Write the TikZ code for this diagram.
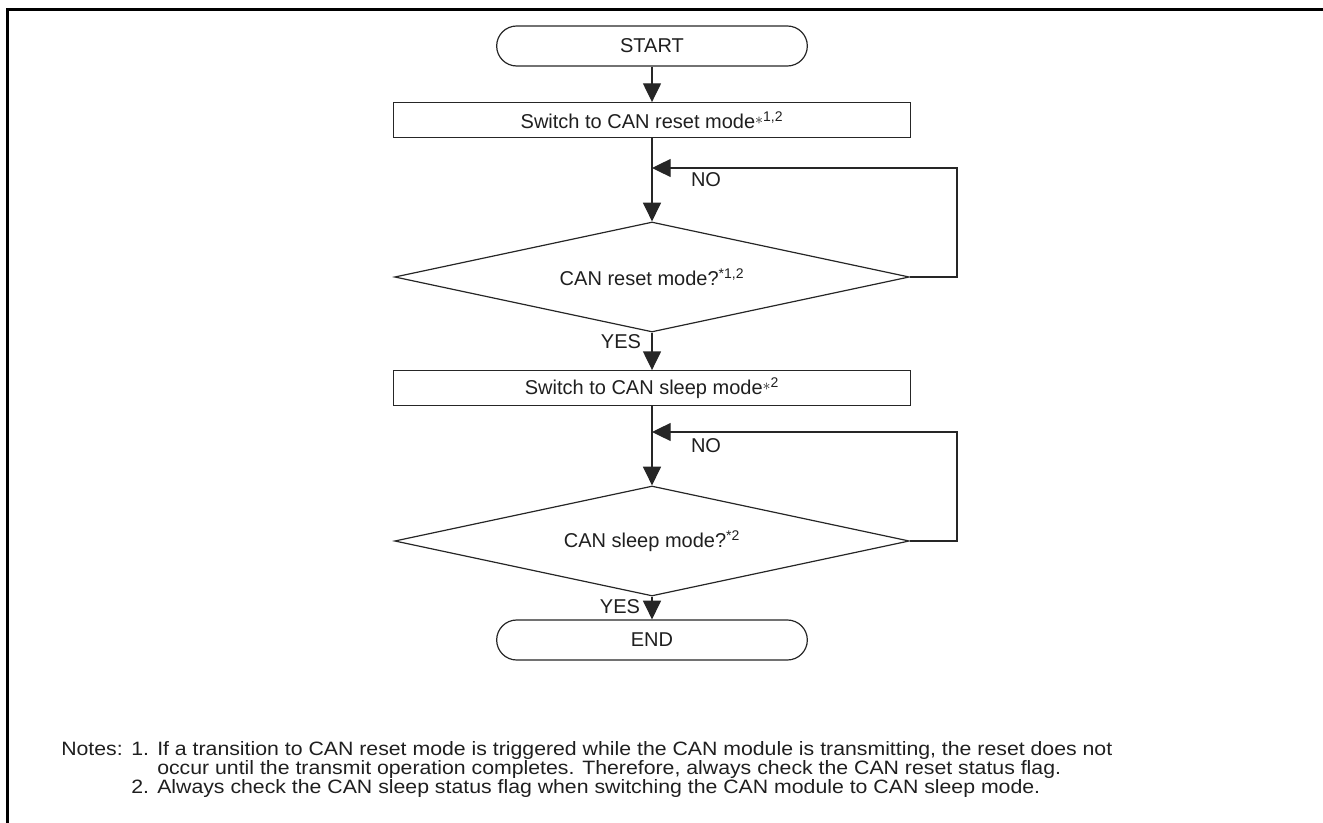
\documentclass[tikz,border=0pt]{standalone}
\usepackage{fontspec}
\setmainfont{Liberation Sans}
\newfontfamily\notefont[FakeStretch=1.1]{Liberation Sans}
\usetikzlibrary{shapes.geometric,arrows.meta}
\newcommand{\bigast}{\raisebox{0.35ex}{\fontsize{13}{13}\selectfont$\ast$}}
\begin{document}
\begin{tikzpicture}[x=0.75pt,y=-0.75pt,
  txt/.style={font=\fontsize{15}{18}\selectfont, text=black!88, inner sep=0pt},
  term/.style={txt, draw=black!85, line width=0.9pt, minimum width=233pt, minimum height=30pt, rounded corners=15pt},
  proc/.style={txt, draw=black!85, line width=0.9pt, minimum width=388pt, minimum height=26pt},
  dec/.style={txt, diamond, aspect=4.68, draw=black!85, line width=0.9pt, minimum width=386pt, minimum height=82.5pt},
  flow/.style={draw=black!85, line width=0.9pt, -{Triangle[length=14pt,width=13.5pt]}},
  lbl/.style={txt},
  note/.style={font=\notefont\fontsize{14.5}{17}\selectfont, text=black!88, inner sep=0pt, anchor=base west}]
\path[use as bounding box] (0,0) rectangle (1323,823);
\draw[line width=2.25pt, line join=miter] (7,823) -- (7,10) -- (1323,10);

\node[term] (start) at (652,46) {START};
\node[proc] (b1) at (652,120) {Switch to CAN reset mode\bigast\textsuperscript{1,2}};
\node[dec] (d1) at (652,277) {CAN reset mode?\textsuperscript{*1,2}};
\node[proc] (b2) at (652,388) {Switch to CAN sleep mode\bigast\textsuperscript{2}};
\node[dec] (d2) at (652,541) {CAN sleep mode?\textsuperscript{*2}};
\node[term] (end) at (652,640) {END};

\coordinate (r1) at (957,277);
\coordinate (t1) at (957,168);
\coordinate (j1) at (652,168);
\coordinate (r2) at (957,541);
\coordinate (t2) at (957,432);
\coordinate (j2) at (652,432);

\draw[flow] (start) -- (b1);
\draw[flow] (b1) -- (d1);
\draw[flow] (d1) -- (b2);
\draw[flow] (b2) -- (d2);
\draw[flow] (d2) -- (end);
\draw[flow] (d1.east) -- (r1) -- (t1) -- (j1);
\draw[flow] (d2.east) -- (r2) -- (t2) -- (j2);

\node[lbl] (no1) at (706,180) {NO};
\node[lbl] (yes1) at (621,342) {YES};
\node[lbl] (no2) at (706,446) {NO};
\node[lbl] (yes2) at (620,607) {YES};

\node[note] (n0) at (61,755) {Notes:};
\node[note] (n1) at (131,755) {1.};
\node[note] (n1a) at (157,755) {If a transition to CAN reset mode is triggered while the CAN module is transmitting, the reset does not};
\node[note] (n1b) at (157,774) {occur until the transmit operation completes. Therefore, always check the CAN reset status flag.};
\node[note] (n2) at (131,793) {2.};
\node[note] (n2a) at (157,793) {Always check the CAN sleep status flag when switching the CAN module to CAN sleep mode.};
\end{tikzpicture}
\end{document}
